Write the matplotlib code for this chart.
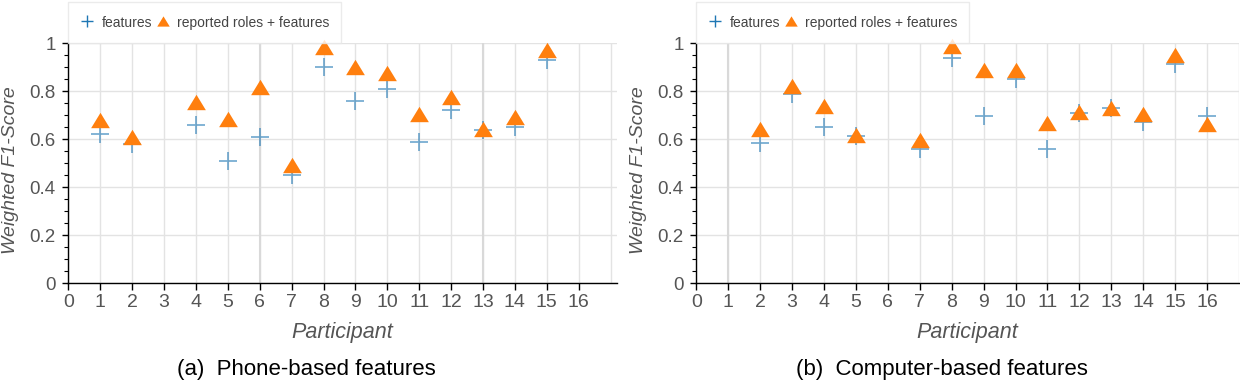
import matplotlib
matplotlib.use("Agg")
import matplotlib.pyplot as plt
from matplotlib.lines import Line2D
from matplotlib.ticker import MultipleLocator

plt.rcParams['font.family'] = ['Liberation Sans', 'DejaVu Sans']

# ---- data ----
phone_participants = [1, 2, 4, 5, 6, 7, 8, 9, 10, 11, 12, 13, 14, 15]
phone_features = [0.62, 0.58, 0.66, 0.51, 0.61, 0.45, 0.90, 0.76, 0.81, 0.59, 0.72, 0.64, 0.65, 0.93]
phone_roles_features = [0.68, 0.61, 0.756, 0.685, 0.816, 0.494, 0.985, 0.903, 0.875, 0.704, 0.775, 0.644, 0.693, 0.97]

comp_participants = [2, 3, 4, 5, 7, 8, 9, 10, 11, 12, 13, 14, 15, 16]
comp_features = [0.586, 0.787, 0.65, 0.614, 0.56, 0.9375, 0.699, 0.851, 0.558, 0.708, 0.729, 0.671, 0.914, 0.697]
comp_roles_features = [0.643, 0.822, 0.74, 0.619, 0.596, 0.99, 0.887, 0.89, 0.667, 0.712, 0.732, 0.705, 0.953, 0.664]

x_ticks = list(range(0, 17))
y_ticks = [0, 0.2, 0.4, 0.6, 0.8, 1.0]
y_ticklabels = ['0', '0.2', '0.4', '0.6', '0.8', '1']
series_labels = ['features', 'reported roles + features']
captions = ['(a)  Phone-based features', '(b)  Computer-based features']
xlabel = 'Participant'
ylabel = 'Weighted F1-Score'

BLUE = '#1f77b4'
ORANGE = '#ff7f0e'
GRAY = '#555555'
GRID = '#e3e3e3'
tri = [(-1, -0.82), (1, -0.82), (0, 0.82)]

fig = plt.figure(figsize=(12.4, 3.9), dpi=100)
W, H = 1240, 390

def make_axes(left_px, right_px):
    return fig.add_axes([left_px / W, (H - 283.3) / H, (right_px - left_px) / W, (283.3 - 43.3) / H])

ax1 = make_axes(68.3, 617)
ax2 = make_axes(696.3, 1239)

def style(ax, xmax, dark_lines, xs, f, rf, left_px, width_px, label_right_px):
    ax.set_xlim(0, xmax)
    ax.set_ylim(0, 1)
    ax.set_xticks(x_ticks)
    ax.set_yticks(y_ticks)
    ax.set_yticklabels(y_ticklabels)
    ax.yaxis.set_minor_locator(MultipleLocator(0.05))
    for s in ['top', 'right']:
        ax.spines[s].set_visible(False)
    for s in ['left', 'bottom']:
        ax.spines[s].set_color('black')
        ax.spines[s].set_linewidth(1.0)
    ax.tick_params(axis='x', which='major', direction='out', length=5, width=1,
                   color='black', labelsize=14, labelcolor=GRAY, pad=2.5)
    ax.tick_params(axis='y', which='major', direction='out', length=4, width=1,
                   color='black', labelsize=13.5, labelcolor=GRAY, pad=5)
    ax.tick_params(axis='y', which='minor', direction='out', length=3, width=0.8, color='black')
    ax.grid(True, which='major', color=GRID, linewidth=1.0)
    ax.axvline(17, color=GRID, linewidth=1.0, zorder=0.5)
    for d in dark_lines:
        ax.axvline(d, color='#d9d9d9', linewidth=1.5, zorder=0.6)
    ax.set_axisbelow(True)
    ax.plot(xs, f, linestyle='none', marker='+', markersize=13.5, markeredgewidth=1.3,
            color=BLUE, alpha=0.6, clip_on=False, zorder=3)
    ax.plot(xs, rf, linestyle='none', marker=tri, markersize=13.5, markeredgewidth=0,
            color=ORANGE, clip_on=False, zorder=4)
    ax.set_xlabel(xlabel, fontsize=15.5, color=GRAY, style='italic', labelpad=8)
    ax.set_ylabel(ylabel, fontsize=14, color=GRAY, style='italic')
    ax.yaxis.set_label_coords((label_right_px - left_px) / width_px, 0.472)
    handles = [Line2D([], [], linestyle='none', marker='+', markersize=8, markeredgewidth=1.0, color=BLUE),
               Line2D([], [], linestyle='none', marker=tri, markersize=9, markeredgewidth=0, color=ORANGE)]
    leg = ax.legend(handles, series_labels, loc='lower left', bbox_to_anchor=(0, 1.0), ncol=2,
                    frameon=True, fancybox=False, borderaxespad=0, fontsize=10,
                    handlelength=1.0, handleheight=1.5, handletextpad=0.5, columnspacing=0.3,
                    borderpad=0.88, labelcolor='#444444')
    leg.get_frame().set_edgecolor('#e6e6e6')
    leg.get_frame().set_linewidth(1.0)

style(ax1, 17.2, [6, 13], phone_participants, phone_features, phone_roles_features, 68.3, 548.7, 19)
style(ax2, 17.0, [1], comp_participants, comp_features, comp_roles_features, 696.3, 542.7, 647)

fig.text(306 / W, 1 - 370 / H, captions[0], ha='center', va='center', fontsize=16, color='black')
fig.text(942 / W, 1 - 370 / H, captions[1], ha='center', va='center', fontsize=16, color='black')

fig.savefig('out.png', dpi=100)
